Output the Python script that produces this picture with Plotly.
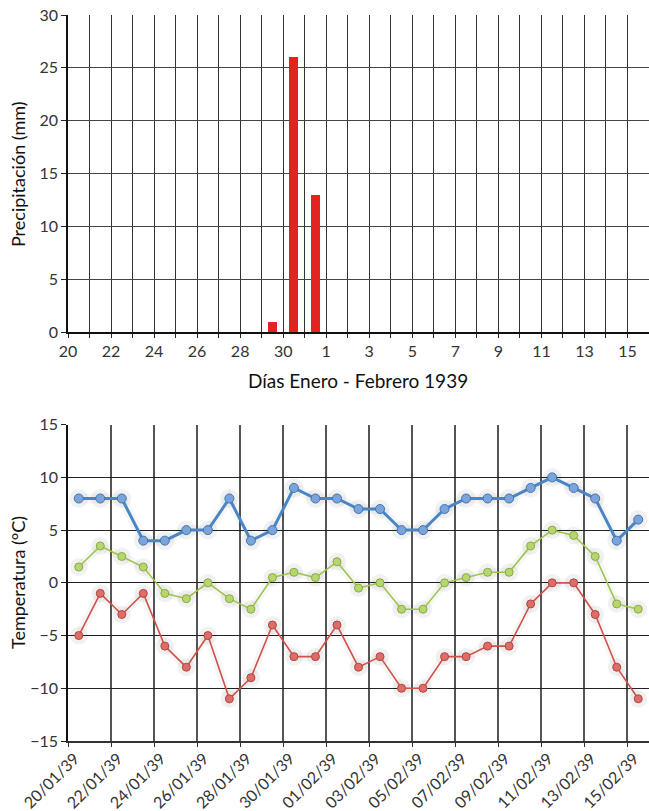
import pandas as pd
import plotly.graph_objects as go

# ---- data ----
dates = [d.strftime("%Y-%m-%d") for d in pd.date_range("1939-01-20", "1939-02-15", freq="D")]
precip_mm = [0, 0, 0, 0, 0, 0, 0, 0, 0, 1, 26, 13, 0, 0,
             0, 0, 0, 0, 0, 0, 0, 0, 0, 0, 0, 0, 0]
t_max = [8, 8, 8, 4, 4, 5, 5, 8, 4, 5, 9, 8, 8, 7, 7, 5, 5, 7, 8, 8, 8, 9, 10, 9, 8, 4, 6]
t_mean = [1.5, 3.5, 2.5, 1.5, -1, -1.5, 0, -1.5, -2.5, 0.5, 1, 0.5, 2, -0.5, 0,
          -2.5, -2.5, 0, 0.5, 1, 1, 3.5, 5, 4.5, 2.5, -2, -2.5]
t_min = [-5, -1, -3, -1, -6, -8, -5, -11, -9, -4, -7, -7, -4, -8, -7, -10, -10,
         -7, -7, -6, -6, -2, 0, 0, -3, -8, -11]

x_title = "Días Enero - Febrero 1939"
y1_title = "Precipitación (mm)"
y2_title = "Temperatura (°C)"

DAY = 86400000
FONT = "Lato"

fig = go.Figure()

fig.add_trace(go.Bar(
    x=dates, y=precip_mm, xaxis="x", yaxis="y",
    xperiod=DAY, xperiodalignment="middle",
    width=0.42 * DAY, marker=dict(color="#e3231f", line=dict(width=0)),
    showlegend=False, hoverinfo="x+y",
))

series = [
    (t_max, "#4a86c6", "#7ba5da", "#3f74b3", 3, 9),
    (t_mean, "#9dc54a", "#b7d672", "#88ad3a", 1.6, 8),
    (t_min, "#d0504a", "#dc6e69", "#b8433e", 1.6, 8),
]
# soft shadows
for vals, lc, mc, oc, lw, ms in series:
    fig.add_trace(go.Scatter(
        x=dates, y=vals, xaxis="x2", yaxis="y2",
        xperiod=DAY, xperiodalignment="middle",
        mode="lines+markers",
        line=dict(color="rgba(0,0,0,0.03)", width=lw + 7),
        marker=dict(size=ms + 10, color="rgba(0,0,0,0.055)", line=dict(width=0)),
        showlegend=False, hoverinfo="skip",
    ))
for vals, lc, mc, oc, lw, ms in series:
    fig.add_trace(go.Scatter(
        x=dates, y=vals, xaxis="x2", yaxis="y2",
        xperiod=DAY, xperiodalignment="middle",
        mode="lines+markers",
        line=dict(color=lc, width=lw),
        marker=dict(size=ms, color=mc, line=dict(color=oc, width=1)),
        showlegend=False,
    ))

tickfont = dict(family=FONT, size=16, color="#333333")
datefont = dict(family=FONT, size=16, color="#333333")
xr = ["1939-01-20", "1939-02-16"]

fig.update_layout(
    width=649, height=811,
    margin=dict(l=68, r=0, t=15, b=70, autoexpand=False),
    paper_bgcolor="white", plot_bgcolor="white",
    font=dict(family=FONT, color="#222222"),
    bargap=0,
    xaxis=dict(
        type="date", range=xr, domain=[0, 1], anchor="y", automargin=False,
        tick0="1939-01-20", dtick=2 * DAY, tickformat="%-d",
        ticks="outside", ticklen=4, tickcolor="#222", tickfont=tickfont,
        showgrid=True, gridcolor="#333333", gridwidth=1,
        showline=True, linecolor="#111111", linewidth=1.5,
        minor=dict(tick0="1939-01-20", dtick=DAY, showgrid=True,
                   gridcolor="#333333", gridwidth=1, ticks="outside",
                   ticklen=4, tickcolor="#222"),
    ),
    yaxis=dict(
        range=[0, 30], dtick=5, domain=[0.563, 1.0], anchor="x", automargin=False,
        ticks="outside", ticklen=5, tickcolor="#222", tickfont=tickfont,
        showgrid=True, gridcolor="#444444", gridwidth=1,
        showline=True, linecolor="#111111", linewidth=1.5, zeroline=False,
    ),
    xaxis2=dict(
        type="date", range=xr, domain=[0, 1], anchor="y2", automargin=False,
        tick0="1939-01-20 12:00", dtick=2 * DAY, tickformat="%d/%m/%y",
        tickangle=-45, ticks="", tickfont=datefont, showgrid=False,
        ticklabelshift=-4,
        showline=True, linecolor="#333333", linewidth=2,
        minor=dict(tick0="1939-01-20", dtick=2 * DAY, showgrid=True,
                   gridcolor="#555555", gridwidth=1.5, ticks="outside",
                   ticklen=4, tickcolor="#333"),
    ),
    yaxis2=dict(
        range=[-15, 15], dtick=5, domain=[0, 0.4357], anchor="x2", automargin=False,
        ticks="outside", ticklen=5, tickcolor="#222", tickfont=tickfont,
        showgrid=True, gridcolor="#222222", gridwidth=1,
        showline=True, linecolor="#111111", linewidth=1.5, zeroline=False,
        tickformat="d",
    ),
    annotations=[
        dict(text=x_title, xref="paper", yref="paper", x=0.499, y=0.4959,
             showarrow=False, font=dict(family=FONT, size=19, color="#111111"),
             xanchor="center", yanchor="middle"),
        dict(text=y1_title, xref="paper", yref="paper", x=-0.086, y=0.781,
             showarrow=False, textangle=-90,
             font=dict(family=FONT, size=18, color="#111111"),
             xanchor="center", yanchor="middle"),
        dict(text=y2_title, xref="paper", yref="paper", x=-0.086, y=0.2176,
             showarrow=False, textangle=-90,
             font=dict(family=FONT, size=18, color="#111111"),
             xanchor="center", yanchor="middle"),
    ],
)

fig.write_html("out.html", config={"displayModeBar": False},
               post_script="document.body.style.margin='0';")
